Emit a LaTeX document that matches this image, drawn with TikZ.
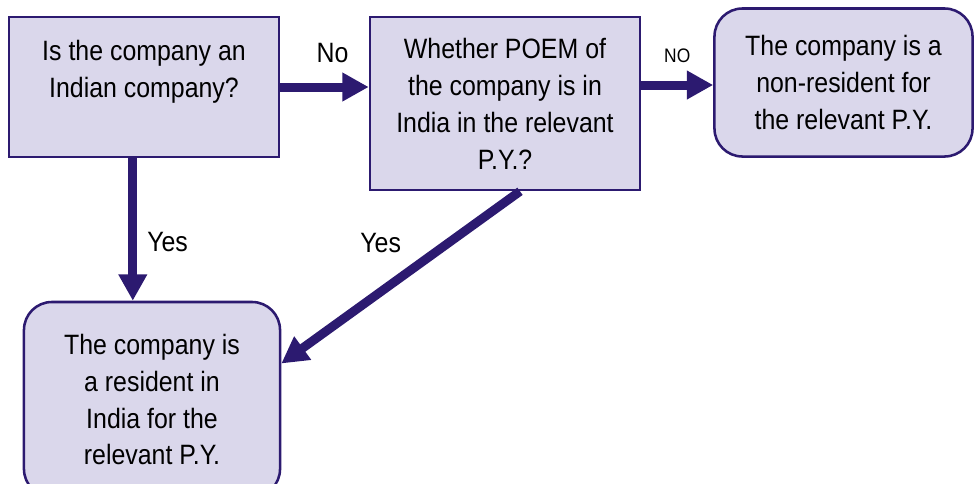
\documentclass[tikz,border=0pt]{standalone}
\usepackage{fontspec}
\setmainfont{Liberation Sans}[FakeStretch=0.89]
\usetikzlibrary{arrows.meta}
\definecolor{boxfill}{RGB}{218,215,235}
\definecolor{boxline}{RGB}{44,26,112}
\tikzset{
    box/.style={draw=boxline, fill=boxfill, line width=1.8pt, align=center,
        inner sep=0pt, font=\fontsize{19.9}{26.3}\selectfont},
    rbox/.style={box, rounded corners=0.7cm},
    flow/.style={boxline, line width=6.4pt, -{Triangle[length=0.66cm,width=0.68cm]}},
    lbl/.style={inner sep=0pt, text=black, font=\fontsize{19.9}{26.3}\selectfont}
}
\begin{document}
\begin{tikzpicture}[x=0.025cm, y=-0.025cm]
            \useasboundingbox (0,0) rectangle (974,483);
            \draw (144,87) node[box, minimum width=6.75cm, minimum height=3.5cm] (indian)
                {Is the company an\\Indian company?\\\mbox{}};
            \draw (505,103.5) node[box, minimum width=6.75cm, minimum height=4.325cm] (poem)
                {Whether POEM of\\the company is in\\India in the relevant\\P.Y.?};
            \draw (843.5,82.5) node[rbox, minimum width=6.45cm, minimum height=3.7cm] (nonres)
                {The company is a\\non-resident for\\the relevant P.Y.};
            \draw (152,399.5) node[rbox, minimum width=6.4cm, minimum height=4.875cm] (res)
                {The company is\\a resident in\\India for the\\relevant P.Y.};

            \draw[flow] (indian.east) -- node[lbl, pos=.59, above=0.5cm] {No} (indian.east -| poem.west);
            \draw[flow] (poem.east |- 0,85) -- node[lbl, midway, above=0.45cm, font=\fontsize{13.9}{16}\selectfont] {NO} (nonres.west |- 0,85);
            \draw[flow] ([xshift=-0.28cm]indian.south) -- node[lbl, pos=.59, right=0.25cm] {Yes} ([xshift=-0.28cm]indian.south |- res.north);
            \draw[flow] ([xshift=0.375cm]poem.south) -- node[lbl, midway, xshift=-0.5cm, yshift=0.86cm] {Yes} ([yshift=0.9cm]res.east);
        \end{tikzpicture}
\end{document}
